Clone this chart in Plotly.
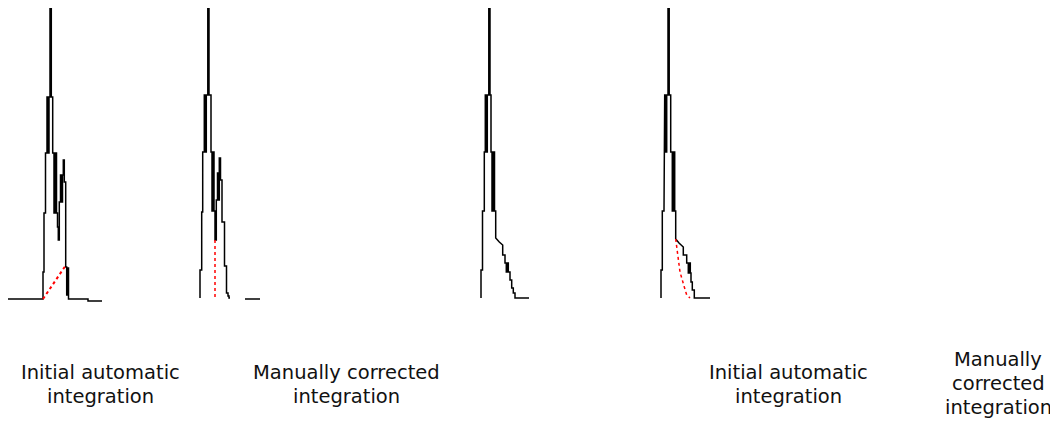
import plotly.graph_objects as go

# ---- Data (retention time vs detector signal) ----
p1_time = [7, 43, 43, 44, 44, 45.5, 45.5, 47, 47, 48, 48, 49, 49, 50, 50, 51.3, 51.3, 52.7, 52.7, 54, 54,
           55.3, 55.3, 56.5, 56.5, 57.5, 57.5, 58.3, 58.3, 59.3, 59.3, 60.5, 60.5, 61.5, 61.5, 62.5, 62.5,
           63.3, 63.3, 64.3, 64.3, 65.7, 65.7, 66.7, 66.7, 67.7, 67.7, 68.5, 68.5, 88, 88, 102]
p1_signal = [0, 0, 27, 27, 86, 86, 146, 146, 202, 202, 146, 146, 202, 202, 291, 291, 202, 202, 146, 146, 86,
             86, 146, 146, 86, 86, 72, 72, 59, 59, 97, 97, 124, 124, 97, 97, 124,
             124, 139, 139, 117, 117, 32, 32, 4, 4, 31, 31, 0, 0, -2, -2]
p1_base_time = [43, 66]
p1_base_signal = [0, 34]

p2_time = [200, 200, 201.7, 201.7, 202.7, 202.7, 204.3, 204.3, 205.3, 205.3, 206.3, 206.3, 207.8, 207.8,
           209, 209, 211, 211, 212, 212, 213, 213, 214, 214, 215, 215, 216.3, 216.3, 217.5, 217.5, 218.5,
           218.5, 219.3, 219.3, 220.5, 220.5, 222, 222, 224.5, 224.5, 226.5, 226.5, 228, 228, 229, 229, 230,
           None, 245, 260]
p2_signal = [1, 29, 29, 87, 87, 147, 147, 204, 204, 147, 147, 204, 204, 292,
             292, 204, 204, 147, 147, 88, 88, 147, 147, 88, 88, 59, 59, 99, 99, 126, 126,
             99, 99, 141, 141, 119, 119, 77, 77, 33, 33, 6, 6, 3, 3, 1, 1,
             None, 0, 0]
p2_base_time = [215, 215]
p2_base_signal = [59, 2]

p3_time = [481, 481, 482.5, 482.5, 484.3, 484.3, 485.3, 485.3, 486.3, 486.3, 487.3, 487.3, 488.8, 488.8,
           490, 490, 491, 491, 492, 492, 493.3, 493.3, 494.5, 494.5, 495.7, 495.7, 499.3, 502.7, 502.7,
           505, 505, 506.3, 506.3, 507.3, 507.3, 508.3, 508.3, 510, 510, 511.7, 511.7, 513.3, 513.3, 515,
           515, 529]
p3_signal = [1, 29, 29, 88, 88, 147, 147, 204, 204, 147, 147, 204, 204, 292,
             292, 204, 204, 147, 147, 88, 88, 147, 147, 88, 88, 61, 57, 54, 44,
             44, 36, 36, 27, 27, 36, 36, 27, 27, 19, 19, 11, 11, 6, 6,
             1, 1]

p4_time = [661, 661, 662.3, 662.3, 664, 664, 664.7, 664.7, 665.7, 665.7, 666.7, 666.7, 668, 668,
           669.2, 669.2, 670.7, 670.7, 672.3, 672.3, 673.5, 673.5, 674.7, 674.7, 675.7, 675.7, 679, 683.3,
           683.3, 686.7, 686.7, 688.3, 688.3, 689.3, 689.3, 690.3, 690.3, 691, 691, 692.3, 692.3, 694.3,
           694.3, 710]
p4_signal = [1, 29, 29, 88, 88, 147, 147, 204, 204, 147, 147, 204, 204, 292,
             292, 204, 204, 147, 147, 88, 88, 147, 147, 88, 88, 60, 56, 52,
             44, 44, 36, 36, 26, 26, 36, 36, 26, 26, 17, 17, 9, 9,
             1, 1]
p4_base_time = [675.7, 677.7, 680, 684.3, 686.7, 690]
p4_base_signal = [60, 46, 27, 12, 4, 1]

label_lines = [
    ["Initial automatic", "integration"],
    ["Manually corrected", "integration"],
    ["Initial automatic", "integration"],
    ["Manually", "corrected", "integration"],
]
label_x = [100, 346, 788, 998]
label_top_y = [-73, -73, -73, -60]
line_step = 24

# ---- Figure ----
fig = go.Figure()
black = dict(color="black", width=1.5)
for t, s in [(p1_time, p1_signal), (p2_time, p2_signal), (p3_time, p3_signal), (p4_time, p4_signal)]:
    fig.add_trace(go.Scatter(x=t, y=s, mode="lines", line=black, hoverinfo="skip",
                             connectgaps=False, cliponaxis=False))

fig.add_trace(go.Scatter(x=p1_base_time, y=p1_base_signal, mode="lines", cliponaxis=False,
                         line=dict(color="red", width=2, dash="dot")))
fig.add_trace(go.Scatter(x=p2_base_time, y=p2_base_signal, mode="lines", cliponaxis=False,
                         line=dict(color="red", width=1.5, dash="3px,3px")))
fig.add_trace(go.Scatter(x=p4_base_time, y=p4_base_signal, mode="lines", cliponaxis=False,
                         line=dict(color="red", width=1.5, dash="3px,3px")))

for lines, x, y0 in zip(label_lines, label_x, label_top_y):
    for i, txt in enumerate(lines):
        fig.add_annotation(x=x, y=y0 - i * line_step, text=txt, showarrow=False,
                           xanchor="center", yanchor="middle", align="center",
                           font=dict(family="DejaVu Sans", size=19.5, color="#111"))

# The page body has an 8px default margin; the figure fills the rest of the window.
fig.update_layout(
    width=1050, height=413, margin=dict(l=0, r=0, t=0, b=0),
    paper_bgcolor="white", plot_bgcolor="white", showlegend=False,
    xaxis=dict(range=[8, 1058], visible=False, fixedrange=True),
    yaxis=dict(range=[-122, 291], visible=False, fixedrange=True),
)

fig.write_html("out.html")
